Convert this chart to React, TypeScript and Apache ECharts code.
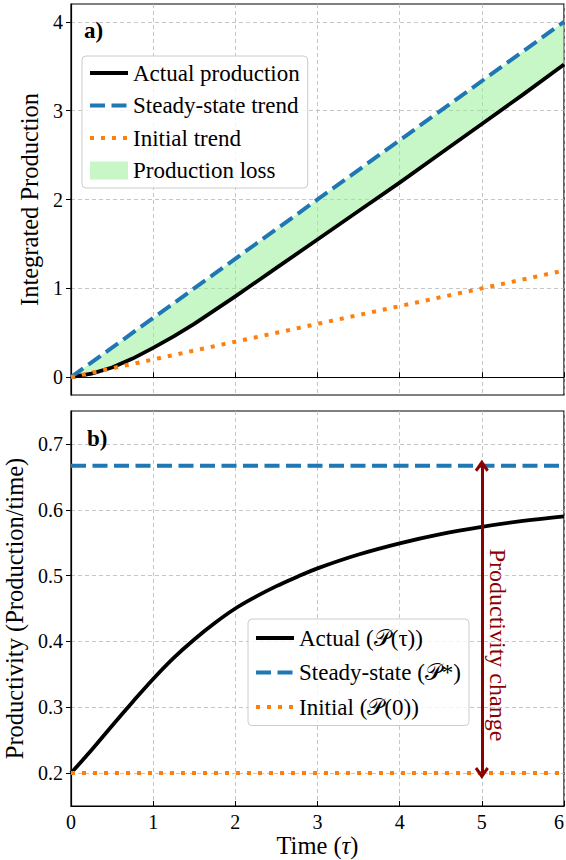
import React, { useEffect, useRef } from "react";
import * as echarts from "echarts";

// ---- data ----
const timeTop = [0, 0.25, 0.5, 0.75, 1, 1.25, 1.5, 2, 2.5, 3, 3.5, 4, 4.5, 5, 5.5, 6];
const actualProduction = [0, 0.04, 0.11, 0.21, 0.33, 0.46, 0.6, 0.91, 1.23, 1.55, 1.87, 2.19, 2.52, 2.85, 3.18, 3.52];
const steadyTrend: [number, number][] = [[0, 0], [6, 4]];
const initialTrend: [number, number][] = [[0, 0], [6, 1.2]];

const timeBottom = [0, 0.25, 0.5, 0.75, 1, 1.25, 1.5, 1.75, 2, 2.25, 2.5, 2.75, 3, 3.5, 4, 4.5, 5, 5.5, 6];
const actualProductivity = [0.2, 0.235, 0.272, 0.308, 0.343, 0.375, 0.403, 0.428, 0.45, 0.468, 0.484, 0.498, 0.511, 0.532, 0.549, 0.563, 0.574, 0.583, 0.59];
const steadyProductivity: [number, number][] = [[0, 0.6667], [6, 0.6667]];
const initialProductivity: [number, number][] = [[0, 0.2], [6, 0.2]];
const arrowSpan: [number, number][] = [[5, 0.2], [5, 0.6667]];

const xTicks = [0, 1, 2, 3, 4, 5, 6];
const yTicksTop = [0, 1, 2, 3, 4];
const yTicksBottom = [0.2, 0.3, 0.4, 0.5, 0.6, 0.7];

const FONT = "Liberation Serif";
const BLUE = "#1f77b4";
const ORANGE = "#ff7f0e";
const GREEN = "rgba(144,238,144,0.5)";
const DARKRED = "#8b0000";

const NAME_ACT = "Actual production";
const NAME_SS = "Steady-state trend";
const NAME_INIT = "Initial trend";
const NAME_LOSS = "Production loss";
const NAME_ACT_B = "Actual (𝒫(τ))";
const NAME_SS_B = "Steady-state (𝒫*)";
const NAME_INIT_B = "Initial (𝒫(0))";

function interpLine(line: [number, number][], t: number) {
  const [[x0, y0], [x1, y1]] = line;
  return y0 + ((y1 - y0) * (t - x0)) / (x1 - x0);
}

export default function App() {
  const ref = useRef<HTMLDivElement>(null);
  useEffect(() => {
    document.body.style.margin = "0";
    const chart = echarts.init(ref.current!, undefined, { renderer: "svg" });

    const actualPts = timeTop.map((t, i) => [t, actualProduction[i]]);
    const actualBPts = timeBottom.map((t, i) => [t, actualProductivity[i]]);

    const gridLine = { show: true, lineStyle: { color: "#b8b8b8", type: [4, 3], width: 0.8 } };
    const axisLineStyle = { show: true, lineStyle: { color: "#000", width: 1.2 } };
    const nameStyle = { fontFamily: FONT, fontSize: 24.5, color: "#000" };

    const xAxisBase = (gi: number, showLabel: boolean, name?: string) => ({
      type: "value",
      gridIndex: gi,
      min: 0,
      max: 6,
      interval: 1,
      axisLine: axisLineStyle,
      axisTick: { show: true, inside: true, length: 5, lineStyle: { color: "#000" }, customValues: xTicks },
      axisLabel: {
        show: showLabel,
        customValues: xTicks,
        fontFamily: FONT,
        fontSize: 20,
        color: "#000",
        margin: 6,
        alignMaxLabel: "right",
      },
      splitLine: gridLine,
      name,
      nameLocation: "middle",
      nameGap: 25,
      nameTextStyle: {
        ...nameStyle,
        rich: { i: { fontFamily: FONT, fontSize: 24.5, fontStyle: "italic", color: "#000" } },
      },
    });

    const legendCommon = {
      orient: "vertical",
      itemWidth: 38,
      itemHeight: 18,
      backgroundColor: "rgba(255,255,255,0.8)",
      borderColor: "#cccccc",
      borderWidth: 1,
      borderRadius: 4,
      selectedMode: false,
      lineStyle: { width: 4 },
      itemStyle: { opacity: 0 },
      textStyle: { fontFamily: FONT, fontSize: 23, color: "#000", lineHeight: 25 },
    };

    const option: any = {
      animation: false,
      backgroundColor: "#fff",
      grid: [
        { left: 71, right: 2, top: 4, height: 391, show: true, borderColor: "#000", borderWidth: 1.2, outerBoundsMode: "none", containLabel: false },
        { left: 71, right: 2, top: 411, height: 395, show: true, borderColor: "#000", borderWidth: 1.2, outerBoundsMode: "none", containLabel: false },
      ],
      xAxis: [xAxisBase(0, false), xAxisBase(1, true, "Time ({i|τ})")],
      yAxis: [
        {
          type: "value",
          gridIndex: 0,
          min: -0.2,
          max: 4.2,
          axisLine: axisLineStyle,
          axisTick: { show: true, inside: false, length: 5, lineStyle: { color: "#000" }, customValues: yTicksTop },
          axisLabel: { customValues: yTicksTop, fontFamily: FONT, fontSize: 20, color: "#000", margin: 8 },
          splitLine: gridLine,
          name: "Integrated Production",
          nameLocation: "middle",
          nameGap: 15,
          nameTextStyle: nameStyle,
        },
        {
          type: "value",
          gridIndex: 1,
          min: 0.15,
          max: 0.75,
          axisLine: axisLineStyle,
          axisTick: { show: true, inside: false, length: 5, lineStyle: { color: "#000" }, customValues: yTicksBottom },
          axisLabel: {
            customValues: yTicksBottom,
            formatter: (v: number) => v.toFixed(1),
            fontFamily: FONT,
            fontSize: 20,
            color: "#000",
            margin: 8,
          },
          splitLine: gridLine,
          name: "Productivity (Production/time)",
          nameLocation: "middle",
          nameGap: 34,
          nameTextStyle: nameStyle,
        },
      ],
      legend: [
        {
          ...legendCommon,
          left: 82,
          top: 56,
          itemGap: 7.5,
          padding: [4.5, 8, 5, 6],
          data: [
            { name: NAME_ACT },
            { name: NAME_SS },
            { name: NAME_INIT },
            { name: NAME_LOSS, icon: "rect", itemStyle: { color: GREEN, opacity: 1 } },
          ],
        },
        {
          ...legendCommon,
          left: 248,
          top: 619,
          itemGap: 9.5,
          padding: [6.5, 8, 6, 6],
          data: [{ name: NAME_ACT_B }, { name: NAME_SS_B }, { name: NAME_INIT_B }],
        },
      ],
      series: [
        {
          name: NAME_LOSS,
          type: "custom",
          xAxisIndex: 0,
          yAxisIndex: 0,
          data: [[0, 0]],
          itemStyle: { color: GREEN },
          silent: true,
          z: 1,
          renderItem: (_params: any, api: any) => {
            const upper = timeTop.map((t) => api.coord([t, interpLine(steadyTrend, t)]));
            const lower = timeTop.map((t, i) => api.coord([t, actualProduction[i]])).reverse();
            return {
              type: "polygon",
              shape: { points: upper.concat(lower) },
              style: { fill: GREEN, stroke: "none" },
            };
          },
        },
        {
          name: NAME_ACT,
          type: "line",
          xAxisIndex: 0,
          yAxisIndex: 0,
          data: actualPts,
          symbol: "none",
          itemStyle: { color: "#000" },
          lineStyle: { color: "#000", width: 3.8, join: "round" },
          z: 3,
        },
        {
          name: NAME_SS,
          type: "line",
          xAxisIndex: 0,
          yAxisIndex: 0,
          data: steadyTrend,
          symbol: "none",
          itemStyle: { color: BLUE },
          lineStyle: { color: BLUE, width: 4, type: [15, 6.5] },
          z: 4,
        },
        {
          name: NAME_INIT,
          type: "line",
          xAxisIndex: 0,
          yAxisIndex: 0,
          data: initialTrend,
          symbol: "none",
          itemStyle: { color: ORANGE },
          lineStyle: { color: ORANGE, width: 4, type: [4, 7] },
          z: 5,
        },
        {
          name: NAME_ACT_B,
          type: "line",
          xAxisIndex: 1,
          yAxisIndex: 1,
          data: actualBPts,
          symbol: "none",
          smooth: 0.4,
          itemStyle: { color: "#000" },
          lineStyle: { color: "#000", width: 3.8 },
          z: 3,
        },
        {
          name: NAME_SS_B,
          type: "line",
          xAxisIndex: 1,
          yAxisIndex: 1,
          data: steadyProductivity,
          symbol: "none",
          itemStyle: { color: BLUE },
          lineStyle: { color: BLUE, width: 4, type: [15, 6.5] },
          z: 4,
        },
        {
          name: NAME_INIT_B,
          type: "line",
          xAxisIndex: 1,
          yAxisIndex: 1,
          data: initialProductivity,
          symbol: "none",
          itemStyle: { color: ORANGE },
          lineStyle: { color: ORANGE, width: 4, type: [4, 7] },
          z: 4,
          markLine: {
            silent: true,
            symbol: [
              "path://M5,0 L10,7.5 L8.4,9 L5,4.2 L1.6,9 L0,7.5 Z",
              "path://M5,0 L10,7.5 L8.4,9 L5,4.2 L1.6,9 L0,7.5 Z",
            ],
            symbolSize: [14, 12],
            label: { show: false },
            lineStyle: { color: DARKRED, width: 3, type: "solid" },
            data: [[{ coord: arrowSpan[0] }, { coord: arrowSpan[1] }]],
            z: 6,
          },
        },
      ],
      graphic: [
        {
          type: "text",
          left: 84,
          top: 19,
          style: { text: "a)", font: `bold 23px ${FONT}`, fill: "#000" },
        },
        {
          type: "text",
          left: 87,
          top: 427,
          style: { text: "b)", font: `bold 23px ${FONT}`, fill: "#000" },
        },
        {
          type: "text",
          x: 498,
          y: 645,
          rotation: -Math.PI / 2,
          style: {
            text: "Productivity change",
            font: `24px ${FONT}`,
            fill: DARKRED,
            align: "center",
            verticalAlign: "middle",
          },
        },
      ],
    };
    chart.setOption(option);
    return () => chart.dispose();
  }, []);
  return <div ref={ref} style={{ width: 566, height: 860 }} />;
}
